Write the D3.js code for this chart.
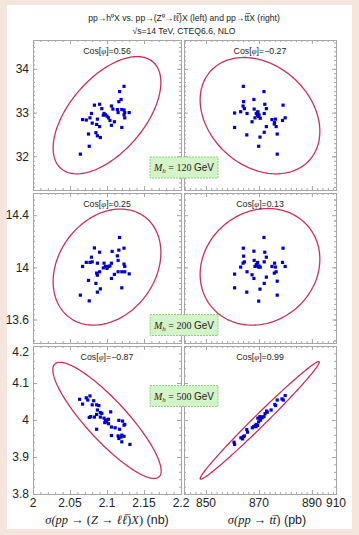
<!DOCTYPE html>
<html>
<head>
<meta charset="utf-8">
<script src="https://cdn.jsdelivr.net/npm/d3@7"></script>
<style>
  body { margin: 0; background: #f4e6dd; }
  svg { display: block; }
</style>
</head>
<body>
<div id="chart"></div>
<script>
// ---- data: pseudo-experiment points [sigma_x, sigma_h] per panel ----
// left column: sigma(pp -> Z -> ll X) in nb, right column: sigma(pp -> ttbar) in pb
const zll120 = [[2.123,33.60],[2.117,33.48],[2.119,33.30],[2.116,33.25],[2.106,33.15],[2.108,33.08],[2.083,33.17],
  [2.090,33.19],[2.093,33.09],[2.079,32.98],[2.077,32.88],[2.067,32.84],[2.072,32.83],[2.080,32.76],[2.087,32.85],
  [2.096,32.98],[2.098,32.95],[2.100,32.92],[2.102,32.88],[2.104,32.82],[2.110,32.79],[2.106,32.71],[2.115,33.00],
  [2.114,33.07],[2.120,33.07],[2.123,33.06],[2.124,33.00],[2.123,32.95],[2.130,33.00],[2.124,32.88],[2.120,32.66],
  [2.086,32.73],[2.090,32.68],[2.075,32.51],[2.085,32.54],[2.087,32.47],[2.091,32.43],[2.076,32.23],[2.064,32.05],
  [2.095,32.94]];
const tt120 = [[864.1,33.60],[871.9,33.48],[864.2,33.25],[868.1,33.30],[864.0,33.15],[864.5,33.09],[863.1,33.02],
  [860.8,32.99],[865.5,32.98],[868.2,33.08],[872.2,33.19],[872.8,33.09],[869.5,33.00],[869.0,32.98],[870.0,32.95],
  [869.9,32.91],[870.5,32.87],[872.0,32.98],[868.5,32.88],[867.4,32.79],[874.9,32.84],[876.2,32.85],[875.9,32.77],
  [875.8,32.74],[876.5,32.68],[879.1,33.17],[879.9,32.88],[878.9,32.82],[860.8,32.66],[872.8,32.68],[872.0,32.55],
  [865.4,32.49],[870.4,32.44],[876.9,32.51],[869.9,32.23],[876.9,32.05],[869.6,33.02],[869.4,32.94]];
const zll200 = [[2.117,14.229],[2.123,14.147],[2.116,14.132],[2.083,14.149],[2.090,14.116],[2.107,14.122],[2.079,14.078],
  [2.067,14.007],[2.072,14.038],[2.077,14.038],[2.080,14.042],[2.087,14.032],[2.096,14.032],[2.098,14.007],[2.100,14.002],
  [2.102,14.007],[2.104,14.011],[2.106,14.032],[2.115,14.053],[2.114,14.088],[2.123,14.025],[2.124,14.007],[2.124,13.966],
  [2.130,13.950],[2.120,13.966],[2.115,13.966],[2.110,13.946],[2.106,13.915],[2.090,13.966],[2.086,13.956],[2.087,13.940],
  [2.075,13.900],[2.085,13.877],[2.091,13.835],[2.087,13.810],[2.120,13.843],[2.064,13.787],[2.076,13.743],[2.095,13.996],
  [2.100,13.992]];
const tt200 = [[871.9,14.229],[864.1,14.147],[868.1,14.124],[872.2,14.116],[879.1,14.147],[872.8,14.078],[864.2,14.086],
  [864.5,14.042],[864.0,14.032],[863.1,14.002],[860.8,13.948],[865.5,13.966],[868.2,14.053],[869.5,14.038],[869.0,14.022],
  [870.0,14.011],[869.9,14.002],[870.5,14.002],[868.5,14.007],[867.4,13.943],[872.0,14.042],[874.9,14.007],[876.2,14.002],
  [875.9,14.032],[876.5,13.966],[875.8,13.956],[878.9,14.038],[879.9,14.007],[872.8,13.925],[868.1,13.915],[860.8,13.843],
  [872.0,13.877],[876.9,13.894],[865.4,13.810],[870.4,13.833],[876.9,13.787],[869.9,13.741],[869.1,14.011]];
const zll500 = [[2.063,4.056],[2.067,4.043],[2.072,4.060],[2.074,4.054],[2.077,4.065],[2.082,4.052],[2.080,4.041],
  [2.086,4.041],[2.089,4.039],[2.087,4.027],[2.091,4.020],[2.093,4.018],[2.086,4.015],[2.083,4.008],[2.078,4.009],
  [2.076,4.007],[2.091,4.008],[2.096,4.005],[2.098,3.999],[2.097,3.993],[2.100,4.000],[2.102,4.002],[2.105,4.022],
  [2.102,3.990],[2.106,3.981],[2.111,3.979],[2.116,3.999],[2.121,3.997],[2.123,3.986],[2.124,3.988],[2.086,3.975],
  [2.106,3.958],[2.115,3.957],[2.116,3.950],[2.119,3.954],[2.120,3.959],[2.123,3.956],[2.120,3.941],[2.131,3.934],
  [2.117,3.975],[2.099,3.995]];
const tt500 = [[860.6,3.940],[860.8,3.934],[863.2,3.952],[864.1,3.955],[863.8,3.949],[864.5,3.957],[865.4,3.974],
  [865.7,3.967],[867.5,3.979],[868.0,3.982],[868.6,3.985],[869.0,3.988],[869.5,3.985],[869.9,3.995],[869.6,4.005],
  [870.4,4.009],[870.6,4.000],[871.2,4.006],[871.9,4.009],[872.3,4.017],[872.9,4.024],[873.1,4.021],[874.6,4.027],
  [876.0,4.042],[876.3,4.039],[876.9,4.054],[878.7,4.057],[879.2,4.054],[879.9,4.066],[868.9,3.982],[870.9,4.008]];

// correlation ellipses, one entry per panel (row by row, left then right)
const cosPhi    = [0.56, -0.27, 0.25, 0.13, -0.87, 0.99];
const ellipseCx = [2.100, 870.4, 2.100, 870.4, 2.100, 870.3];
const ellipseCy = [32.94, 32.93, 14.002, 14.004, 3.999, 3.999];
const ellipseSx = [0.0728, 22.6, 0.0728, 22.6, 0.0732, 22.5];
const ellipseSy = [1.34, 1.33, 0.445, 0.447, 0.157, 0.159];

const higgsMasses = ['120', '200', '500'];

// tick values
const xTicksLeft  = [2, 2.05, 2.1, 2.15, 2.2];
const xTicksRight = [850, 870, 890, 910];
const yTicksRows  = [[32, 33, 34], [13.6, 14, 14.4], [3.8, 3.9, 4, 4.1, 4.2]];
const yMinorStep  = [0.1, 0.04, 0.02];

// ---- layout ----
const W = 359, H = 535;
const rowTop = [40, 193, 346], rowBottom = [190, 343, 494];
const colLeft = [33, 184], colRight = [181, 336];
const frameColor = '#a6a6a6';
const sans = '"Liberation Sans", Arial, sans-serif';
const serif = '"Liberation Serif", "Times New Roman", serif';

const svg = d3.select('#chart').append('svg')
  .attr('width', W).attr('height', H);

svg.append('rect').attr('width', W).attr('height', H).attr('fill', '#f4e6dd');
svg.append('rect').attr('x', 7).attr('y', 5).attr('width', 345).attr('height', 524).attr('fill', '#fff');

const xScales = [
  d3.scaleLinear().domain([2, 2.2]).range([colLeft[0], colRight[0]]),
  d3.scaleLinear().domain([841.7, 899.1]).range([colLeft[1], colRight[1]]).clamp(true)
];
const yScales = [
  d3.scaleLinear().domain([31.23, 34.66]).range([rowBottom[0], rowTop[0]]),
  d3.scaleLinear().domain([13.42, 14.57]).range([rowBottom[1], rowTop[1]]),
  d3.scaleLinear().domain([3.8, 4.2]).range([rowBottom[2], rowTop[2]])
];
const xMajor = [xTicksLeft, xTicksRight];
const xMinor = [d3.range(2, 2.2001, 0.01), d3.range(842, 899.1, 2)];

const panelPoints = [zll120, tt120, zll200, tt200, zll500, tt500];

// Title
const title = svg.append('g').attr('font-family', sans).attr('font-size', 8.6)
  .attr('fill', '#222').attr('text-anchor', 'middle');
title.append('text').attr('x', 184).attr('y', 21)
  .text('pp\u2192h\u2070X vs. pp\u2192(Z\u2070\u2192\u2113\u2113\u0305)X (left) and pp\u2192tt\u0305X (right)');
title.append('text').attr('x', 184).attr('y', 34)
  .text('\u221As=14 TeV, CTEQ6.6, NLO');

function drawTicks(g, axisFn, scale, values, size) {
  g.call(axisFn(scale).tickValues(values).tickSize(-size).tickFormat(''))
    .call(s => s.select('.domain').remove())
    .selectAll('line').attr('stroke', frameColor);
}

for (let r = 0; r < 3; r++) {
  for (let c = 0; c < 2; c++) {
    const k = r * 2 + c;
    const x = xScales[c], y = yScales[r];
    const x0 = colLeft[c], x1 = colRight[c], y0 = rowTop[r], y1 = rowBottom[r];
    const panel = svg.append('g');

    // frame ticks on all four sides, pointing inward
    const yMin = d3.range(y.domain()[0], y.domain()[1], yMinorStep[r])
      .map(v => Math.round(v / yMinorStep[r]) * yMinorStep[r])
      .filter(v => v >= y.domain()[0] && v <= y.domain()[1]);
    const xMin = xMinor[c].filter(v => v >= x.domain()[0] && v <= x.domain()[1]);
    const xMaj = xMajor[c].filter(v => v <= x.domain()[1]);
    [[d3.axisBottom, y1], [d3.axisTop, y0]].forEach(([fn, ty]) => {
      drawTicks(panel.append('g').attr('transform', `translate(0,${ty})`), fn, x, xMin, 2);
      drawTicks(panel.append('g').attr('transform', `translate(0,${ty})`), fn, x, xMaj, 4);
    });
    [[d3.axisLeft, x0], [d3.axisRight, x1]].forEach(([fn, tx]) => {
      drawTicks(panel.append('g').attr('transform', `translate(${tx},0)`), fn, y, yMin, 2);
      drawTicks(panel.append('g').attr('transform', `translate(${tx},0)`), fn, y, yTicksRows[r], 4);
    });

    panel.append('rect')
      .attr('x', x0 + 0.5).attr('y', y0 + 0.5)
      .attr('width', x1 - x0).attr('height', y1 - y0)
      .attr('fill', 'none').attr('stroke', frameColor).attr('stroke-width', 1);

    // correlation ellipse
    const delta = Math.acos(cosPhi[k]);
    const ts = d3.range(0, 2 * Math.PI, Math.PI / 90);
    const ell = d3.line()
      .x(t => x(ellipseCx[k] + ellipseSx[k] * Math.cos(t)))
      .y(t => y(ellipseCy[k] + ellipseSy[k] * Math.cos(t - delta)))
      .curve(d3.curveLinearClosed);
    panel.append('path').attr('d', ell(ts))
      .attr('fill', 'none').attr('stroke', '#c9315c').attr('stroke-width', 1.3);

    // points
    panel.selectAll('rect.pt').data(panelPoints[k]).enter()
      .append('rect').attr('class', 'pt')
      .attr('x', d => x(d[0]) - 1.6).attr('y', d => y(d[1]) - 1.6)
      .attr('width', 3.2).attr('height', 3.2)
      .attr('fill', '#0000c8');

    // Cos[phi] label
    const lbl = panel.append('text')
      .attr('x', (x0 + x1) / 2).attr('y', y0 + 14)
      .attr('text-anchor', 'middle').attr('font-family', sans)
      .attr('font-size', 8.8).attr('fill', '#222');
    lbl.append('tspan').text('Cos[');
    lbl.append('tspan').attr('font-style', 'italic').attr('font-family', serif).text('\u03C6');
    lbl.append('tspan').text(']=' + (cosPhi[k] < 0 ? '\u2212' : '') + Math.abs(cosPhi[k]).toFixed(2));

    // tick labels
    if (c === 0) {
      const yl = panel.append('g').attr('font-family', sans).attr('font-size', 12)
        .attr('fill', '#222').attr('text-anchor', 'end');
      yTicksRows[r].forEach(v => {
        yl.append('text').attr('x', 29)
          .attr('y', Math.max(y(v), y0 + 6)).attr('dy', '0.36em')
          .text(v);
      });
    }
    if (r === 2) {
      const xl = panel.append('g').attr('font-family', sans).attr('font-size', 12)
        .attr('fill', '#222').attr('text-anchor', 'middle');
      xMajor[c].forEach(v => {
        xl.append('text').attr('x', x(v)).attr('y', y1 + 13).text(v);
      });
    }
  }
}

// Higgs mass tags, placed over the column gap
const tagCenterY = [167.5, 325, 396];
higgsMasses.forEach((m, r) => {
  const g = svg.append('g').attr('transform', `translate(184,${tagCenterY[r]})`);
  g.append('rect').attr('x', -34).attr('y', -10.5).attr('width', 68).attr('height', 21)
    .attr('fill', '#d3f3c9').attr('stroke', '#8fd07e').attr('stroke-width', 1)
    .attr('stroke-dasharray', '2,1');
  const t = g.append('text').attr('text-anchor', 'middle').attr('y', 3.5)
    .attr('font-size', 10).attr('fill', '#222');
  t.append('tspan').attr('font-family', serif).attr('font-style', 'italic').text('M');
  t.append('tspan').attr('font-family', serif).attr('font-style', 'italic')
    .attr('font-size', 7).attr('dy', 2).text('h');
  t.append('tspan').attr('font-family', serif).attr('dy', -2).text(' = ' + m + ' ');
  t.append('tspan').attr('font-family', sans).text('GeV');
});

// x-axis titles
const xTitles = [
  [['\u03C3(', 'i'], ['pp', 'i'], [' \u2192 (', 'r'], ['Z', 'i'], [' \u2192 ', 'r'], ['\u2113\u2113\u0305', 'i'], [')', 'r'], ['X', 'i'], [')', 'r'], [' (nb)', 's']],
  [['\u03C3(', 'i'], ['pp', 'i'], [' \u2192 ', 'r'], ['tt\u0305', 'i'], [')', 'r'], [' (pb)', 's']]
];
xTitles.forEach((parts, c) => {
  const t = svg.append('text')
    .attr('x', (colLeft[c] + colRight[c]) / 2 + (c === 1 ? 7 : 0)).attr('y', 524)
    .attr('text-anchor', 'middle').attr('font-size', 12.5).attr('fill', '#222');
  parts.forEach(([s, st]) => {
    t.append('tspan')
      .attr('font-family', st === 's' ? sans : serif)
      .attr('font-style', st === 'i' ? 'italic' : 'normal')
      .text(s);
  });
});
</script>
</body>
</html>
